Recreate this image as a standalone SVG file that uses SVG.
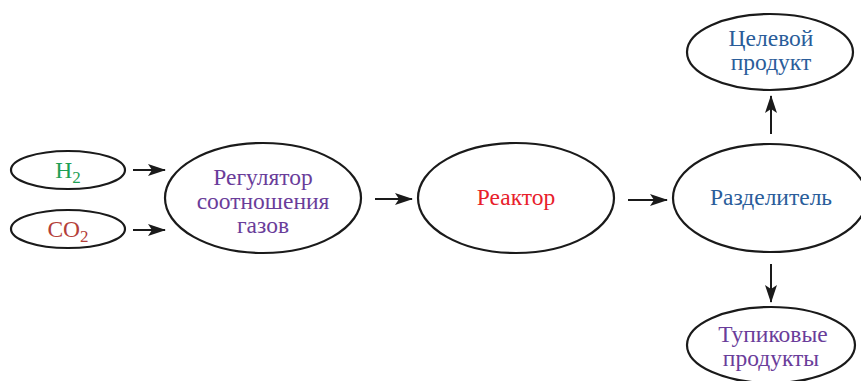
<svg xmlns="http://www.w3.org/2000/svg" width="861" height="381" viewBox="0 0 861 381">
<style>
.n{fill:#fff;stroke:#1a1a1a;stroke-width:2.2}
.t{font-family:'Liberation Serif','DejaVu Serif',serif;font-size:23.5px;text-anchor:middle}
.c{stroke:#1a1a1a;stroke-width:2;fill:none;marker-end:url(#ah)}
</style>
<defs>
<marker id="ah" markerWidth="18" markerHeight="12" refX="17" refY="6" orient="auto" markerUnits="userSpaceOnUse">
<path d="M0,0 L18,6 L0,12 L4,6 Z" fill="#1a1a1a"/>
</marker>
</defs>
<rect width="861" height="381" fill="#fff"/>
<g id="connectors">
<line class="c" x1="133" y1="170" x2="165" y2="170"/>
<line class="c" x1="133" y1="230" x2="165" y2="230"/>
<line class="c" x1="375" y1="199" x2="412" y2="199"/>
<line class="c" x1="628" y1="200" x2="667" y2="200"/>
<line class="c" x1="771" y1="134" x2="771" y2="96"/>
<line class="c" x1="771" y1="264" x2="771" y2="302"/>
</g>
<g id="h2">
<ellipse class="n" cx="68" cy="170" rx="57" ry="19"/>
<text class="t" x="68" y="178" fill="#1ea055" font-family="Liberation Serif, serif">H<tspan font-size="17" dy="5">2</tspan></text>
</g>
<g id="co2">
<ellipse class="n" cx="68" cy="229" rx="57" ry="19"/>
<text class="t" x="68" y="237" fill="#b4403a" font-family="Liberation Serif, serif">CO<tspan font-size="17" dy="5">2</tspan></text>
</g>
<g id="regulator">
<ellipse class="n" cx="263" cy="198" rx="98" ry="55"/>
<text class="t" x="263" y="185" fill="#6a3d9a" font-family="Liberation Serif, serif">Регулятор</text>
<text class="t" x="263" y="209" fill="#6a3d9a" font-family="Liberation Serif, serif">соотношения</text>
<text class="t" x="263" y="233" fill="#6a3d9a" font-family="Liberation Serif, serif">газов</text>
</g>
<g id="reactor">
<ellipse class="n" cx="516" cy="198" rx="98" ry="55"/>
<text class="t" x="516" y="205" fill="#e8202a" font-family="Liberation Serif, serif">Реактор</text>
</g>
<g id="separator">
<ellipse class="n" cx="770" cy="198" rx="97" ry="54"/>
<text class="t" x="771" y="205" fill="#2a5d9a" font-family="Liberation Serif, serif">Разделитель</text>
</g>
<g id="target">
<ellipse class="n" cx="770" cy="52" rx="83" ry="38"/>
<text class="t" x="771" y="46" fill="#2a5d9a" font-family="Liberation Serif, serif">Целевой</text>
<text class="t" x="771" y="70" fill="#2a5d9a" font-family="Liberation Serif, serif">продукт</text>
</g>
<g id="deadend">
<ellipse class="n" cx="771" cy="345" rx="84" ry="38"/>
<text class="t" x="773" y="342" fill="#6a3d9a" font-family="Liberation Serif, serif">Тупиковые</text>
<text class="t" x="771" y="366" fill="#6a3d9a" font-family="Liberation Serif, serif">продукты</text>
</g>
</svg>
